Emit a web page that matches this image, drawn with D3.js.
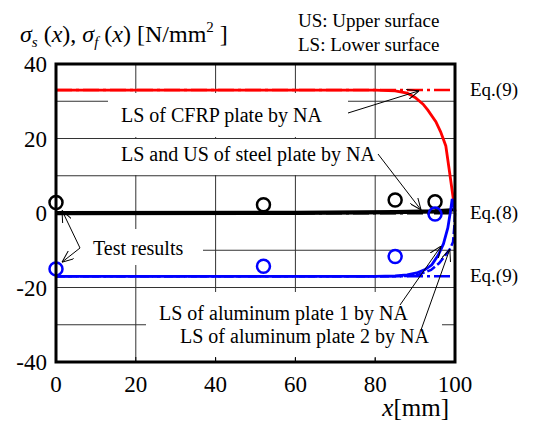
<!DOCTYPE html>
<html>
<head>
<meta charset="utf-8">
<script src="https://cdn.jsdelivr.net/npm/d3@7"></script>
<style>
  body { margin: 0; background: #fff; }
  text { font-family: "Liberation Serif", "Times New Roman", serif; fill: #000; }
</style>
</head>
<body>
<div id="chart"></div>
<script>
// axis ticks
const xTicks = [0, 20, 40, 60, 80, 100];
const yTicks = [-40, -20, 0, 20, 40];
const yGrid = [-30, -20, -10, 0, 10, 20, 30];
const xGrid = [20, 40, 60, 80];

// LS of CFRP plate by NA  [x, sigma]
const cfrpNA = [[0, 33], [80, 33], [85, 32.8], [88, 32.2], [90, 31.0], [92, 29.2], [93.2, 27.6],
  [95.2, 24.5], [96.4, 21.8], [97.7, 18], [98.5, 12], [99.3, 5.9], [100, 0.5]];
// steel plate LS / US by NA
const steelLS = [[0, -0.3], [60, -0.2], [85, 0], [95, 0.3], [100, 0.8]];
const steelUS = [[0, 0.2], [60, 0.3], [85, 0.5], [95, 0.7], [100, 1.0]];
// aluminum plates by NA
const alu1NA = [[0, -17], [80, -17], [85, -16.9], [88, -16.6], [90.4, -16.1], [92.5, -15.2], [94.2, -13.9],
  [95.8, -11.3], [97.1, -8.3], [98.2, -4], [98.8, 0], [99.3, 3.8], [100, 0.3]];
const alu2NA = [[0, -17], [85, -17], [88, -16.9], [91, -16.5], [94, -15.3], [96, -13.5], [97.5, -11.5],
  [98.7, -9.7], [99.5, -7.8], [99.8, -4], [100, 0]];
// closed form
const eq9cfrp = [[0, 33], [100, 33]];
const eq8steel = [[0, 0], [100, 0]];
const eq9alu = [[0, -17], [100, -17]];
// test results
const testX = [0, 52, 85, 95];
const testSteel = [2.8, 2.2, 3.5, 3.0];
const testAlu = [-15, -14.3, -11.7, -0.3];

const width = 546, height = 421;
const margin = { left: 56, right: 91, top: 64, bottom: 59 };

const svg = d3.select("#chart").append("svg")
  .attr("width", width).attr("height", height);

const x = d3.scaleLinear().domain([0, 100]).range([margin.left, width - margin.right]);
const y = d3.scaleLinear().domain([-40, 40]).range([height - margin.bottom, margin.top]);

const defs = svg.append("defs");
defs.append("marker").attr("id", "arr")
  .attr("viewBox", "0 0 12 10").attr("refX", 12).attr("refY", 5)
  .attr("markerWidth", 12).attr("markerHeight", 10).attr("markerUnits", "userSpaceOnUse")
  .attr("orient", "auto")
  .append("path").attr("d", "M0,0 L12,5 L0,10")
  .attr("fill", "none").attr("stroke", "#000").attr("stroke-width", 1);

// gridlines
svg.append("g").selectAll("line").data(xGrid).enter().append("line")
  .attr("x1", d => x(d)).attr("x2", d => x(d))
  .attr("y1", y(40)).attr("y2", y(-40))
  .attr("stroke", "#333").attr("stroke-width", 1);
svg.append("g").selectAll("line").data(yGrid).enter().append("line")
  .attr("x1", x(0)).attr("x2", x(100))
  .attr("y1", d => y(d)).attr("y2", d => y(d))
  .attr("stroke", "#333").attr("stroke-width", 1);

// white boxes behind the notes
const boxes = [
  [108, 93, 240, 44],
  [108, 139, 270, 36],
  [57, 229, 146, 36],
  [146, 292, 296, 66]
];
svg.append("g").selectAll("rect").data(boxes).enter().append("rect")
  .attr("x", d => d[0]).attr("y", d => d[1]).attr("width", d => d[2]).attr("height", d => d[3])
  .attr("fill", "#fff");

// inner ticks at bottom
svg.append("g").selectAll("line").data(xGrid).enter().append("line")
  .attr("x1", d => x(d)).attr("x2", d => x(d))
  .attr("y1", y(-40)).attr("y2", y(-40) - 5)
  .attr("stroke", "#000").attr("stroke-width", 1);

const line = d3.line().x(d => x(d[0])).y(d => y(d[1]));

function drawLine(data, color, w, dash) {
  svg.append("path").datum(data)
    .attr("d", line)
    .attr("fill", "none")
    .attr("stroke", color)
    .attr("stroke-width", w)
    .attr("stroke-dasharray", dash || null);
}

const dashDot = "16,4,3,4";
drawLine(eq9cfrp, "#ff0000", 2.5, dashDot);
drawLine(cfrpNA, "#ff0000", 2.8);
drawLine(eq8steel, "#000", 3, dashDot);
drawLine(steelLS, "#000", 2.5);
drawLine(steelUS, "#000", 2.5);
drawLine(eq9alu, "#0000ff", 2.5, dashDot);
drawLine(alu2NA, "#0000ff", 2.5, "9,3");
drawLine(alu1NA, "#0000ff", 2.8);

// test results
svg.append("g").selectAll("circle").data(testX).enter().append("circle")
  .attr("cx", d => x(d)).attr("cy", (d, i) => y(testSteel[i])).attr("r", 6.5)
  .attr("fill", "none").attr("stroke", "#000").attr("stroke-width", 2.5);
svg.append("g").selectAll("circle").data(testX).enter().append("circle")
  .attr("cx", d => x(d)).attr("cy", (d, i) => y(testAlu[i])).attr("r", 6.5)
  .attr("fill", "none").attr("stroke", "#0000ff").attr("stroke-width", 2.5);

// frame
svg.append("rect")
  .attr("x", x(0)).attr("y", y(40))
  .attr("width", x(100) - x(0)).attr("height", y(-40) - y(40))
  .attr("fill", "none").attr("stroke", "#000").attr("stroke-width", 3);

// tick labels
svg.append("g").selectAll("text").data(xTicks).enter().append("text")
  .attr("x", d => x(d)).attr("y", 392)
  .attr("text-anchor", "middle").attr("font-size", 23)
  .text(d => d);
svg.append("g").selectAll("text").data(yTicks).enter().append("text")
  .attr("x", 47).attr("y", d => y(d) + 8)
  .attr("text-anchor", "end").attr("font-size", 23)
  .text(d => d);

// axis titles
const yt = svg.append("text").attr("x", 20).attr("y", 42).attr("font-size", 24);
yt.append("tspan").attr("font-style", "italic").text("σ");
yt.append("tspan").attr("font-style", "italic").attr("font-size", 15).attr("dy", 5).text("s");
yt.append("tspan").attr("dy", -5).text(" (");
yt.append("tspan").attr("font-style", "italic").text("x");
yt.append("tspan").text("), ");
yt.append("tspan").attr("font-style", "italic").text("σ");
yt.append("tspan").attr("font-style", "italic").attr("font-size", 15).attr("dy", 5).text("f");
yt.append("tspan").attr("dy", -5).text(" (");
yt.append("tspan").attr("font-style", "italic").text("x");
yt.append("tspan").text(") [N/mm");
yt.append("tspan").attr("font-size", 15).attr("dy", -10).text("2");
yt.append("tspan").attr("dy", 10).text(" ]");

const xt = svg.append("text").attr("x", 449).attr("y", 416).attr("font-size", 25).attr("text-anchor", "end");
xt.append("tspan").attr("font-style", "italic").text("x");
xt.append("tspan").text("[mm]");

svg.append("text").attr("x", 298).attr("y", 27).attr("font-size", 19).text("US: Upper surface");
svg.append("text").attr("x", 298).attr("y", 51).attr("font-size", 19).text("LS: Lower surface");

// equation labels on the right
const eqLabels = [["Eq.(9)", 33], ["Eq.(8)", 0], ["Eq.(9)", -17]];
svg.append("g").selectAll("text").data(eqLabels).enter().append("text")
  .attr("x", 470).attr("y", d => y(d[1]) + 6).attr("font-size", 19)
  .text(d => d[0]);

// notes
const notes = [
  ["LS of CFRP plate by NA", 121, 122],
  ["LS and US of steel plate by NA", 121, 161],
  ["Test results", 93, 255],
  ["LS of aluminum plate 1 by NA", 159, 320],
  ["LS of aluminum plate 2 by NA", 180, 343]
];
svg.append("g").selectAll("text").data(notes).enter().append("text")
  .attr("x", d => d[1]).attr("y", d => d[2]).attr("font-size", 20)
  .text(d => d[0]);

// leader arrows [x1, y1, x2 (data), y2 (data)]
const arrows = [
  [348, 113, 91, 32.8],
  [378, 154, 91.5, 0.8],
  [80, 248, 1.5, 0.7],
  [80, 248, 1.5, -13.2],
  [400, 305, 96.5, -8.9],
  [421, 330, 98.7, -9.7]
];
svg.append("g").selectAll("line").data(arrows).enter().append("line")
  .attr("x1", d => d[0]).attr("y1", d => d[1])
  .attr("x2", d => x(d[2])).attr("y2", d => y(d[3]))
  .attr("stroke", "#000").attr("stroke-width", 1)
  .attr("marker-end", "url(#arr)");
</script>
</body>
</html>
